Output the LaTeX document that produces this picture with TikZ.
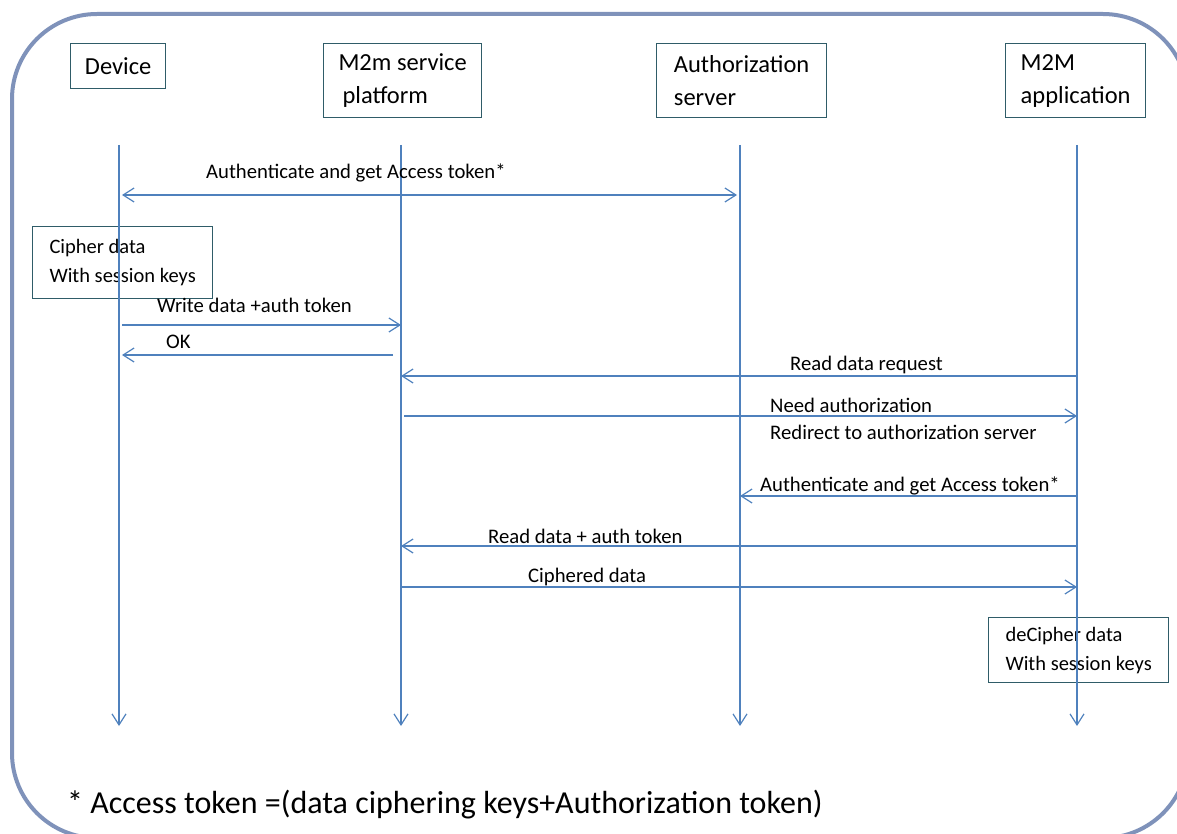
\documentclass[tikz,border=0pt]{standalone}
\usepackage{fontspec}
\setmainfont{Carlito}
\usetikzlibrary{arrows.meta}

\begin{document}
\begin{tikzpicture}[
            x=1pt, y=-1pt,
            >={Straight Barb[length=11pt,width=14pt]},
            font=\fontsize{20.7}{24}\selectfont,
            actorbox/.style={draw=boxteal, line width=1.3pt, align=left, anchor=north west, inner sep=0pt, font=\fontsize{24.5}{33}\selectfont},
            notebox/.style={draw=boxteal, line width=1.3pt, align=left, anchor=north west, inner sep=0pt, font=\fontsize{20.5}{29}\selectfont},
            lifeline/.style={->, draw=lineblue, line width=1.2pt},
            msg/.style={->, draw=lineblue, line width=1.2pt},
            msglabel/.style={anchor=west, inner sep=0pt},
            frame/.style={draw=framegray, line width=4pt, rounded corners=85pt}
        ]
		\definecolor{framegray}{RGB}{127,146,186}
		\definecolor{boxteal}{RGB}{47,92,104}
		\definecolor{lineblue}{RGB}{79,129,189}
		
		\useasboundingbox (0,0) rectangle (1177,834);
		\clip (0,0) rectangle (1177,834);
		
		%Frame
		\draw[frame] (12,14) rectangle (1188,838);
		
		%Actors
		\node[actorbox, minimum width=95pt, minimum height=45pt] (device) at (70,43) {Device};
		\node[actorbox, minimum width=158pt, minimum height=74pt] (platform) at (323,43) {M2m service\\\hspace*{4pt}platform};
		\node[actorbox, minimum width=170pt, minimum height=74pt] (authserver) at (656,43) {Authorization\\server};
		\node[actorbox, minimum width=140pt, minimum height=74pt] (m2mapp) at (1005,43) {M2M\\application};
		
		%Notes
		\node[notebox, minimum width=180pt, minimum height=72pt] (cipher) at (32,226) {Cipher data\\With session keys};
		\node[notebox, minimum width=180pt, minimum height=65pt] (decipher) at (988,617) {deCipher data\\With session keys};
		
		%Lifelines
		\foreach \n/\x in {dev/119, plat/401, auth/740, app/1077} {
			\coordinate (\n-top) at (\x,145);
			\coordinate (\n-end) at (\x,726);
			\draw[lifeline] (\n-top) -- (\n-end);
		}
		
		%Messages
		\draw[msg, <->, shorten <=3pt, shorten >=3pt] (dev-top |- 0,195) -- (auth-top |- 0,195);
		\node[msglabel] (lbl1) at (206,173) {Authenticate and get Access token*};
		
		\draw[msg, shorten <=3pt] (dev-top |- 0,325) -- (plat-top |- 0,325);
		\node[msglabel] (lbl2) at (157,305) {Write data +auth token};
		
		\draw[msg, shorten <=8pt, shorten >=3pt] (plat-top |- 0,355) -- (dev-top |- 0,355);
		\node[msglabel] (lbl3) at (166,342) {OK};
		
		\draw[msg] (app-top |- 0,376) -- (plat-top |- 0,376);
		\node[msglabel] (lbl4) at (790,365) {Read data request};
		
		\draw[msg, shorten <=3pt] (plat-top |- 0,416) -- (app-top |- 0,416);
		\node[msglabel] (lbl5) at (770,405) {Need authorization};
		\node[msglabel] (lbl6) at (770,432) {Redirect to authorization server};
		
		\draw[msg] (app-top |- 0,496) -- (auth-top |- 0,496);
		\node[msglabel] (lbl7) at (760,486) {Authenticate and get Access token*};
		
		\draw[msg] (app-top |- 0,546) -- (plat-top |- 0,546);
		\node[msglabel] (lbl8) at (488,536) {Read data + auth token};
		
		\draw[msg] (plat-top |- 0,587) -- (app-top |- 0,587);
		\node[msglabel] (lbl9) at (528,577) {Ciphered data};
		
		%Footnote
		\node[anchor=west, inner sep=0pt, font=\fontsize{32}{38}\selectfont] (footnote) at (67,805) {* Access token =(data ciphering keys+Authorization token)};
\end{tikzpicture}
\end{document}
